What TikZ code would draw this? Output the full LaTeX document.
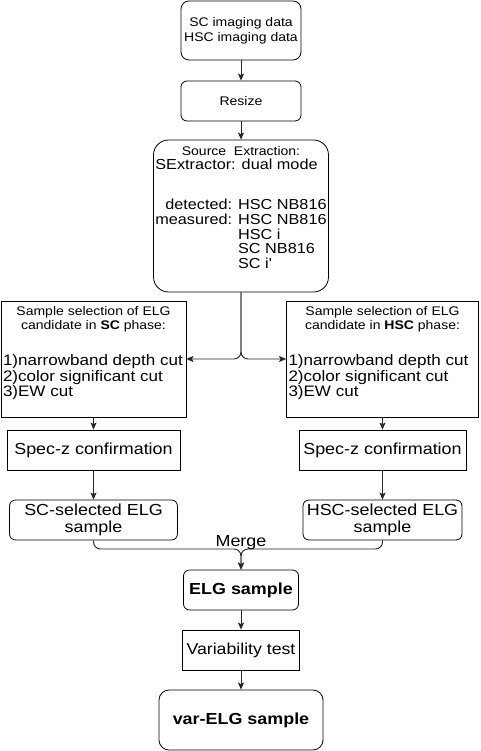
\documentclass[tikz,border=0pt]{standalone}
\usepackage{fontspec}
\setmainfont{Liberation Sans}[FakeStretch=1.12]
\usetikzlibrary{arrows.meta,positioning,calc}
\newcommand{\fsize}[2]{\fontsize{#1}{#2}\selectfont}

\begin{document}
\begin{tikzpicture}[x=1pt, y=-1pt,
    roundbox/.style={draw=black, fill=white, rounded corners=6pt, line width=0.8pt, align=center, inner sep=1pt},
    sharpbox/.style={draw=black, fill=white, line width=0.8pt, align=center, inner sep=1pt},
    flow/.style={-{Stealth[length=7pt,width=6pt,inset=1.5pt]}, line width=0.9pt, draw=black!85, rounded corners=7pt},
    merge_lbl/.style={font=\fsize{16}{18}, inner sep=0pt}
]
    \path[fill=white, use as bounding box] (0,0) rectangle (480,751);

    % Nodes
    \node[roundbox, rounded corners=8pt, minimum width=120pt, minimum height=59pt, font=\fsize{12.5}{15}] (imaging) at (241,30.5) {SC imaging data\\HSC imaging data};

    \node[roundbox, minimum width=120pt, minimum height=40pt, font=\fsize{12.5}{15}] (resize) at (241,101) {Resize};

    \node[roundbox, rounded corners=15pt, minimum width=175pt, minimum height=152pt, font=\fsize{14.5}{14.3}] (extract) at (241,216) {%
        \begin{tabular}{@{}l@{}}
        \multicolumn{1}{c}{\fsize{12.5}{14.3}Source\ \ Extraction:}\\
        SExtractor: dual mode\\[25pt]
        \begin{tabular}[t]{@{}r@{ }l@{}}
        detected: & HSC NB816\\
        measured: & HSC NB816\\
         & HSC i\\
         & SC NB816\\
         & SC i\textquotesingle
        \end{tabular}\\
        \rule{0pt}{0pt}
        \end{tabular}};

    \node[sharpbox, minimum width=185pt, minimum height=116pt, font=\fsize{15.2}{14.5}] (scsel) at (93.5,359) {%
        \begin{tabular}{@{}p{181pt}@{}}
        \multicolumn{1}{c}{\fsize{12.5}{14}Sample selection of ELG}\\
        \multicolumn{1}{c}{\fsize{12.5}{14}candidate in \textbf{SC} phase:}\\[21pt]
        1)narrowband depth cut\\
        2)color significant cut\\
        3)EW cut\\[12pt]
        \end{tabular}};

    \node[sharpbox, minimum width=192pt, minimum height=116pt, font=\fsize{15.2}{14.5}] (hscsel) at (382.5,359) {%
        \begin{tabular}{@{}p{188pt}@{}}
        \multicolumn{1}{c}{\fsize{12.5}{14}Sample selection of ELG}\\
        \multicolumn{1}{c}{\fsize{12.5}{14}candidate in \textbf{HSC} phase:}\\[21pt]
        1)narrowband depth cut\\
        2)color significant cut\\
        3)EW cut\\[12pt]
        \end{tabular}};

    \node[sharpbox, minimum width=173pt, minimum height=40pt, font=\fsize{16}{18}] (scspec) at (93.5,450) {Spec-z confirmation};
    \node[sharpbox, minimum width=167pt, minimum height=40pt, font=\fsize{16}{18}] (hscspec) at (382.5,450) {Spec-z confirmation};

    \node[roundbox, minimum width=168pt, minimum height=40pt, font=\fsize{16}{17}] (scsample) at (93.5,520) {SC-selected ELG\\sample};
    \node[roundbox, minimum width=159pt, minimum height=40pt, font=\fsize{16}{17}] (hscsample) at (382.5,520) {HSC-selected ELG\\sample};

    \coordinate (merge) at (241,549);

    \node[roundbox, minimum width=115pt, minimum height=40pt, font=\fsize{16}{18}\bfseries] (elg) at (241,590) {ELG sample};
    \node[sharpbox, minimum width=117pt, minimum height=40pt, font=\fsize{15.8}{18}] (vartest) at (241,650) {Variability test};
    \node[roundbox, rounded corners=10pt, minimum width=164pt, minimum height=60pt, font=\fsize{16}{18}\bfseries] (varelg) at (241,720) {var-ELG sample};

    % Connectors
    \draw[flow] (imaging) -- (resize);
    \draw[flow] (resize) -- (extract);
    \draw[flow] (extract.south) |- (scsel.east);
    \draw[flow] (extract.south) |- (hscsel.west);
    \draw[flow] (scsel) -- (scspec);
    \draw[flow] (hscsel) -- (hscspec);
    \draw[flow] (scspec) -- (scsample);
    \draw[flow] (hscspec) -- (hscsample);
    \draw[flow] (scsample.south) |- (merge) -- (elg.north);
    \draw[flow] (hscsample.south) |- (merge) -- (elg.north);
    \node[merge_lbl, above, yshift=-1pt] (mergelbl) at (merge) {Merge};
    \draw[flow] (elg) -- (vartest);
    \draw[flow] (vartest) -- (varelg);
\end{tikzpicture}
\end{document}
